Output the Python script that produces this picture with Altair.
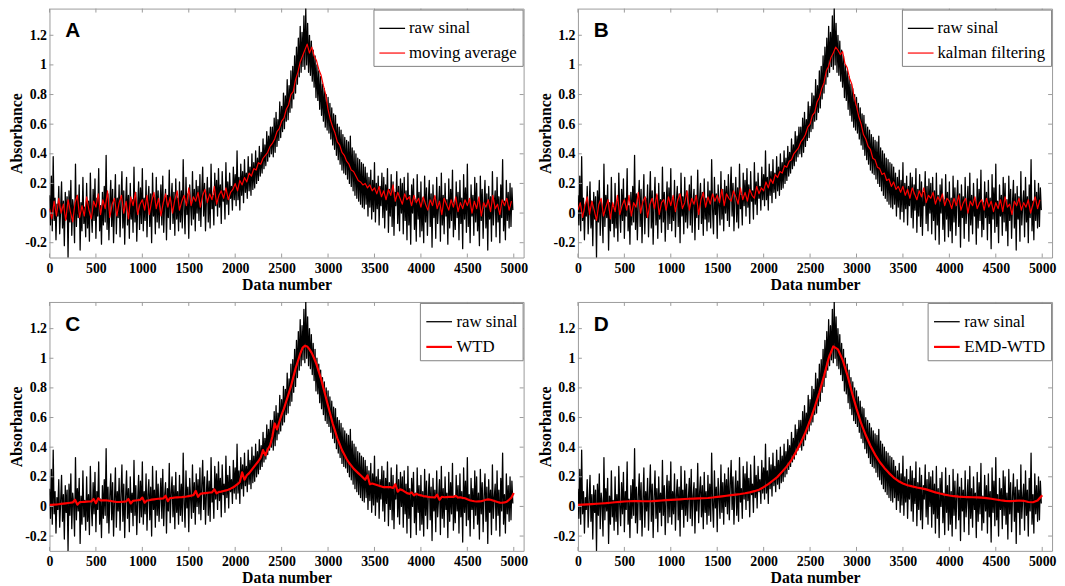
import altair as alt
import numpy as np
import pandas as pd

# ---------------- data ----------------
raw_step = 10
raw_signal = [
    0.12, -0.08, 0.25, -0.12, 0.38, -0.05, 0.10, -0.18, 0.06, -0.02, 0.18, -0.14, 0.03, 0.21, -0.10, 0.08, -0.22, 0.14, -0.04, 0.11,
    -0.30, 0.15, -0.06, 0.22, -0.15, 0.09, 0.02, -0.20, 0.33, -0.09, 0.12, -0.03, 0.19, -0.25, 0.07, -0.12, 0.24, -0.07, 0.04, -0.16,
    0.20, -0.10, 0.08, -0.19, 0.27, 0.01, -0.13, 0.16, -0.05, 0.23, -0.17, 0.10, -0.02, 0.30, -0.12, 0.05, -0.21, 0.14, -0.08, 0.18,
    -0.06, 0.39, -0.11, 0.13, -0.18, 0.07, 0.22, -0.09, 0.16, -0.20, 0.04, 0.26, -0.14, 0.10, -0.03, 0.19, -0.16, 0.08, 0.28, -0.10,
    0.15, -0.21, 0.06, 0.24, -0.08, 0.12, -0.17, 0.20, -0.04, 0.09, -0.13, 0.31, -0.06, 0.14, -0.19, 0.05, 0.21, -0.11, 0.17, -0.07,
    0.30, -0.12, 0.10, -0.05, 0.22, -0.16, 0.08, 0.18, -0.09, 0.13, -0.20, 0.27, -0.02, 0.11, -0.14, 0.24, -0.06, 0.15, -0.10, 0.06,
    0.19, -0.08, 0.25, -0.13, 0.07, 0.16, -0.18, 0.12, -0.03, 0.29, -0.11, 0.09, 0.20, -0.07, 0.14, -0.15, 0.23, -0.04, 0.10, -0.12,
    0.21, -0.06, 0.15, -0.10, 0.36, 0.02, -0.14, 0.24, -0.01, 0.13, -0.17, 0.19, 0.05, -0.08, 0.28, -0.04, 0.16, -0.12, 0.22, 0.00,
    0.18, -0.05, 0.26, -0.09, 0.14, 0.31, -0.02, 0.20, -0.12, 0.09, 0.24, -0.06, 0.17, -0.10, 0.33, 0.03, 0.12, -0.08, 0.27, 0.05,
    0.22, -0.02, 0.30, 0.04, 0.19, -0.07, 0.28, 0.08, 0.15, -0.04, 0.34, 0.06, 0.21, -0.01, 0.27, 0.10, 0.18, 0.02, 0.31, 0.09,
    0.26, 0.05, 0.42, 0.09, 0.24, 0.02, 0.33, 0.12, 0.28, 0.07, 0.36, 0.14, 0.27, 0.10, 0.38, 0.15, 0.31, 0.12, 0.40, 0.16,
    0.34, 0.17, 0.42, 0.20, 0.37, 0.22, 0.45, 0.25, 0.41, 0.27, 0.50, 0.30, 0.46, 0.32, 0.55, 0.35, 0.52, 0.38, 0.58, 0.40,
    0.58, 0.38, 0.64, 0.41, 0.68, 0.45, 0.63, 0.49, 0.75, 0.51, 0.72, 0.55, 0.81, 0.57, 0.79, 0.62, 0.90, 0.63, 0.86, 0.68,
    0.96, 0.71, 0.99, 0.77, 1.06, 0.81, 1.12, 0.87, 1.18, 0.92, 1.26, 0.95, 1.22, 0.99, 1.33, 0.97, 1.38, 1.00, 1.28, 0.95,
    1.20, 0.93, 1.16, 0.89, 1.10, 0.85, 1.06, 0.78, 1.00, 0.76, 0.96, 0.70, 0.92, 0.66, 0.87, 0.62, 0.84, 0.58, 0.80, 0.56,
    0.78, 0.54, 0.74, 0.50, 0.71, 0.46, 0.67, 0.43, 0.66, 0.39, 0.60, 0.36, 0.58, 0.33, 0.56, 0.29, 0.53, 0.27, 0.51, 0.26,
    0.49, 0.23, 0.48, 0.20, 0.52, 0.18, 0.44, 0.15, 0.42, 0.12, 0.40, 0.10, 0.37, 0.08, 0.36, 0.06, 0.34, 0.04, 0.33, 0.03,
    0.31, 0.06, 0.27, -0.02, 0.24, 0.04, 0.29, -0.04, 0.22, 0.01, 0.34, -0.06, 0.20, 0.03, 0.25, -0.08, 0.18, 0.05, 0.27, -0.03,
    0.24, -0.10, 0.19, 0.02, 0.30, -0.13, 0.16, -0.02, 0.26, -0.09, 0.21, -0.15, 0.14, 0.05, 0.28, -0.07, 0.18, -0.12, 0.23, 0.00,
    0.20, -0.14, 0.24, -0.05, 0.15, -0.18, 0.27, -0.08, 0.12, -0.21, 0.19, 0.00, 0.23, -0.11, 0.09, -0.19, 0.26, -0.04, 0.14, -0.16,
    0.21, -0.12, 0.10, -0.20, 0.25, -0.06, 0.17, -0.15, 0.08, 0.22, -0.09, 0.13, -0.23, 0.19, -0.03, 0.11, -0.17, 0.24, -0.07, 0.05,
    0.18, -0.19, 0.27, -0.08, 0.12, -0.14, 0.20, -0.02, 0.09, -0.21, 0.23, -0.10, 0.16, -0.05, 0.29, -0.16, 0.07, -0.11, 0.21, -0.03,
    0.14, -0.18, 0.22, -0.07, 0.10, -0.24, 0.26, -0.04, 0.17, -0.13, 0.33, -0.09, 0.08, -0.20, 0.19, -0.02, 0.12, -0.15, 0.24, -0.06,
    0.20, -0.12, 0.09, -0.22, 0.25, -0.05, 0.16, -0.17, 0.07, 0.22, -0.10, 0.13, -0.25, 0.18, -0.04, 0.11, -0.19, 0.28, -0.08, 0.06,
    0.15, -0.16, 0.24, -0.06, 0.11, -0.20, 0.19, -0.03, 0.36, -0.12, 0.08, -0.18, 0.22, -0.05, 0.14, -0.10, 0.20, -0.09, 0.17, 0.02,
]

filt_step = 25
moving_average = [
    0.03, -0.04, 0.08, -0.02, 0.10, 0.00, 0.06, -0.05, 0.09, 0.01, -0.06, 0.07, 0.12, -0.03, 0.05, -0.02, 0.11, 0.02, -0.04, 0.08,
    0.04, 0.13, -0.01, 0.09, 0.03, 0.15, -0.03, 0.06, 0.10, -0.02, 0.07, 0.12, 0.00, 0.08, -0.04, 0.11, 0.05, 0.14, -0.01, 0.06,
    0.09, 0.02, 0.12, -0.01, 0.08, 0.14, 0.03, 0.10, -0.02, 0.07, 0.13, 0.04, 0.11, 0.00, 0.09, 0.15, 0.02, 0.08, 0.12, 0.05,
    0.17, 0.05, 0.11, 0.08, 0.14, 0.04, 0.12, 0.16, 0.07, 0.13, 0.09, 0.18, 0.06, 0.12, 0.15, 0.10, 0.17, 0.09, 0.14, 0.16,
    0.20, 0.15, 0.22, 0.19, 0.24, 0.21, 0.27, 0.25, 0.30, 0.29, 0.34, 0.33, 0.37, 0.39, 0.41, 0.45, 0.47, 0.50, 0.55, 0.57,
    0.62, 0.64, 0.70, 0.73, 0.80, 0.82, 0.90, 0.95, 1.02, 1.06, 1.10, 1.14, 1.08, 1.12, 1.06, 1.03, 0.97, 0.93, 0.86, 0.80,
    0.70, 0.63, 0.58, 0.54, 0.48, 0.46, 0.41, 0.39, 0.35, 0.33, 0.29, 0.28, 0.25, 0.22, 0.21, 0.19, 0.20, 0.17, 0.19, 0.15,
    0.17, 0.13, 0.18, 0.11, 0.15, 0.09, 0.16, 0.12, 0.19, 0.08, 0.14, 0.10, 0.06, 0.13, 0.09, 0.11, 0.05, 0.12, 0.07, 0.10,
    0.04, 0.11, 0.06, 0.02, 0.09, 0.05, 0.12, 0.03, 0.08, -0.01, 0.10, 0.06, 0.02, 0.09, 0.04, 0.11, 0.01, 0.07, 0.03, 0.09,
    0.05, 0.10, 0.00, 0.08, 0.03, 0.11, -0.02, 0.07, 0.04, 0.09, 0.01, 0.12, 0.03, 0.06, -0.01, 0.09, 0.05, 0.10, 0.02, 0.08,
]
kalman_filtering = [
    0.02, 0.07, -0.03, 0.05, 0.11, -0.01, 0.08, 0.02, -0.05, 0.06, 0.10, -0.02, 0.04, 0.09, -0.04, 0.07, 0.01, 0.12, -0.01, 0.05,
    0.09, 0.02, 0.12, -0.02, 0.07, 0.04, 0.14, 0.00, 0.08, 0.11, -0.03, 0.06, 0.10, 0.03, 0.13, -0.01, 0.07, 0.09, 0.02, 0.11,
    0.05, 0.12, 0.01, 0.09, 0.13, 0.03, 0.07, 0.15, 0.02, 0.10, 0.06, 0.12, -0.01, 0.09, 0.14, 0.04, 0.11, 0.06, 0.13, 0.08,
    0.12, 0.07, 0.16, 0.05, 0.13, 0.10, 0.08, 0.15, 0.11, 0.06, 0.17, 0.09, 0.14, 0.08, 0.16, 0.12, 0.10, 0.18, 0.13, 0.17,
    0.15, 0.21, 0.17, 0.23, 0.20, 0.26, 0.24, 0.28, 0.27, 0.32, 0.31, 0.35, 0.36, 0.40, 0.42, 0.44, 0.48, 0.50, 0.53, 0.58,
    0.60, 0.66, 0.68, 0.75, 0.78, 0.84, 0.88, 0.96, 0.99, 1.05, 1.08, 1.12, 1.10, 1.07, 1.09, 1.01, 0.98, 0.91, 0.87, 0.78,
    0.72, 0.65, 0.60, 0.53, 0.50, 0.45, 0.43, 0.37, 0.36, 0.31, 0.30, 0.26, 0.27, 0.22, 0.23, 0.18, 0.21, 0.16, 0.18, 0.14,
    0.18, 0.12, 0.16, 0.10, 0.17, 0.13, 0.09, 0.15, 0.11, 0.17, 0.07, 0.12, 0.10, 0.14, 0.06, 0.11, 0.08, 0.13, 0.05, 0.10,
    0.08, 0.03, 0.10, 0.05, 0.12, 0.02, 0.07, 0.10, 0.00, 0.08, 0.05, 0.11, 0.03, 0.07, 0.09, 0.02, 0.10, 0.04, 0.08, 0.01,
    0.07, 0.03, 0.09, 0.01, 0.11, 0.04, 0.06, -0.01, 0.08, 0.05, 0.10, 0.02, 0.07, 0.04, 0.09, 0.00, 0.06, 0.11, 0.03, 0.09,
]
wtd = [
    0.010, 0.011, 0.012, 0.013, 0.015, 0.017, 0.019, 0.021, 0.023, 0.025, 0.027, 0.045, 0.012, 0.029, 0.030, 0.031, 0.032, 0.033, 0.034, 0.050,
    0.022, 0.055, 0.040, 0.041, 0.041, 0.040, 0.038, 0.035, 0.032, 0.030, 0.030, 0.031, 0.032, 0.034, 0.050, 0.020, 0.038, 0.040, 0.042, 0.044,
    0.060, 0.025, 0.040, 0.042, 0.046, 0.048, 0.050, 0.052, 0.053, 0.054, 0.072, 0.035, 0.057, 0.058, 0.060, 0.061, 0.062, 0.063, 0.065, 0.067,
    0.070, 0.073, 0.076, 0.105, 0.065, 0.085, 0.088, 0.090, 0.092, 0.094, 0.095, 0.115, 0.088, 0.098, 0.100, 0.104, 0.108, 0.113, 0.120, 0.128,
    0.138, 0.150, 0.165, 0.230, 0.180, 0.210, 0.225, 0.245, 0.265, 0.285, 0.305, 0.330, 0.380, 0.345, 0.385, 0.410, 0.470, 0.560, 0.520, 0.570,
    0.620, 0.660, 0.710, 0.760, 0.810, 0.870, 0.930, 0.980, 1.030, 1.070, 1.085, 1.080, 1.060, 1.035, 1.000, 0.960, 0.910, 0.860, 0.800, 0.740,
    0.680, 0.620, 0.560, 0.510, 0.460, 0.420, 0.380, 0.350, 0.320, 0.295, 0.275, 0.255, 0.240, 0.225, 0.210, 0.195, 0.180, 0.210, 0.150, 0.155,
    0.150, 0.145, 0.140, 0.135, 0.130, 0.130, 0.130, 0.130, 0.125, 0.150, 0.100, 0.115, 0.110, 0.100, 0.090, 0.085, 0.095, 0.075, 0.085, 0.078,
    0.075, 0.070, 0.068, 0.065, 0.063, 0.062, 0.060, 0.080, 0.045, 0.065, 0.062, 0.063, 0.064, 0.065, 0.064, 0.072, 0.060, 0.062, 0.058, 0.055,
    0.048, 0.042, 0.038, 0.035, 0.033, 0.034, 0.035, 0.040, 0.045, 0.048, 0.045, 0.040, 0.035, 0.030, 0.026, 0.025, 0.027, 0.032, 0.045, 0.060,
    0.090,
]
emd_step = 50
emd_wtd = [
    0.010, 0.012, 0.014, 0.016, 0.018, 0.020, 0.022, 0.025, 0.028, 0.031,
    0.033, 0.035, 0.036, 0.036, 0.035, 0.035, 0.036, 0.038, 0.040, 0.042,
    0.044, 0.046, 0.048, 0.050, 0.052, 0.053, 0.054, 0.055, 0.057, 0.060,
    0.064, 0.068, 0.072, 0.076, 0.080, 0.084, 0.089, 0.095, 0.103, 0.113,
    0.130, 0.150, 0.175, 0.200, 0.235, 0.270, 0.315, 0.370, 0.430, 0.500,
    0.580, 0.670, 0.770, 0.880, 1.000, 1.080, 1.060, 0.990, 0.890, 0.770,
    0.660, 0.560, 0.480, 0.410, 0.350, 0.300, 0.260, 0.225, 0.195, 0.172,
    0.155, 0.143, 0.135, 0.128, 0.122, 0.115, 0.105, 0.095, 0.087, 0.080,
    0.074, 0.069, 0.066, 0.064, 0.063, 0.062, 0.061, 0.059, 0.056, 0.052,
    0.047, 0.042, 0.038, 0.036, 0.037, 0.040, 0.038, 0.030, 0.028, 0.040,
    0.075,
]

x_ticks = [0, 500, 1000, 1500, 2000, 2500, 3000, 3500, 4000, 4500, 5000]
y_ticks = [-0.2, 0, 0.2, 0.4, 0.6, 0.8, 1, 1.2]
x_domain = [0, 5106]
y_domain = [-0.3, 1.38]

W, H = 480, 252
SERIF = "Liberation Serif"
BOX = "#9a9a9a"


def panel(letter, name, values, step, red_width):
    raw_df = pd.DataFrame({"x": np.arange(len(raw_signal)) * raw_step,
                           "y": raw_signal, "series": "raw sinal"})
    f_df = pd.DataFrame({"x": np.arange(len(values)) * step,
                         "y": values, "series": name})
    xt = pd.DataFrame({"x": x_ticks})
    yt = pd.DataFrame({"y": y_ticks})
    xs = alt.Scale(domain=x_domain, nice=False, zero=False)
    ys = alt.Scale(domain=y_domain, nice=False, zero=False)
    x_axis = alt.Axis(values=x_ticks, title="Data number", ticks=False, domain=False, grid=False,
                      format="d",
                      labelFont=SERIF, labelFontWeight="bold", labelFontSize=14, labelColor="black",
                      labelPadding=4, labelFlush=False, labelOverlap=False,
                      titleFont=SERIF, titleFontWeight="bold", titleFontSize=16, titleColor="black",
                      titlePadding=1)
    y_axis = alt.Axis(values=y_ticks, title="Absorbance", ticks=False, domain=False, grid=False,
                      labelFont=SERIF, labelFontWeight="bold", labelFontSize=14, labelColor="black",
                      labelPadding=3, labelFlush=False, labelOverlap=False,
                      labelExpr="datum.value < 0 ? '-' + format(-datum.value, '~g') : format(datum.value, '~g')",
                      titleFont=SERIF, titleFontWeight="bold", titleFontSize=16, titleColor="black",
                      titlePadding=0)
    X = alt.X("x:Q", scale=xs, axis=x_axis, title="Data number")
    Y = alt.Y("y:Q", scale=ys, axis=y_axis, title="Absorbance")
    leg = alt.Legend(title=None, orient="top-right", offset=1, padding=5,
                     strokeColor="#808080", fillColor="white",
                     labelFont=SERIF, labelFontSize=17, labelColor="black", labelLimit=400,
                     labelOffset=3, symbolType="stroke", symbolSize=676, rowPadding=3)
    color = alt.Color("series:N", scale=alt.Scale(domain=["raw sinal", name], range=["black", "#ff0000"]),
                      legend=leg)
    width = alt.StrokeWidth("series:N", scale=alt.Scale(domain=["raw sinal", name], range=[1.3, red_width]),
                            legend=leg)

    raw = alt.Chart(raw_df).mark_line(clip=True, strokeJoin="round").encode(
        x=X, y=Y, color=color, strokeWidth=width)
    filt = alt.Chart(f_df).mark_line(clip=True, strokeJoin="round").encode(
        x=X, y=Y, color=color, strokeWidth=width)
    tick_top = alt.Chart(xt).mark_rule(color=BOX, strokeWidth=1).encode(
        x=X, y=alt.value(0), y2=alt.value(4))
    tick_bot = alt.Chart(xt).mark_rule(color=BOX, strokeWidth=1).encode(
        x=X, y=alt.value(H), y2=alt.value(H - 4))
    tick_left = alt.Chart(yt).mark_rule(color=BOX, strokeWidth=1).encode(
        y=Y, x=alt.value(0), x2=alt.value(4))
    tick_right = alt.Chart(yt).mark_rule(color=BOX, strokeWidth=1).encode(
        y=Y, x=alt.value(W - 4), x2=alt.value(W))
    lab = alt.Chart(pd.DataFrame({"label": [letter]})).mark_text(
        font="Liberation Sans", fontWeight="bold", fontSize=21, align="left",
        baseline="alphabetic", color="black").encode(
        x=alt.value(16), y=alt.value(29), text="label:N")
    return alt.layer(raw, filt, tick_top, tick_bot, tick_left, tick_right, lab).properties(width=W, height=H)


A = panel("A", "moving average", moving_average, filt_step, 1.2)
B = panel("B", "kalman filtering", kalman_filtering, filt_step, 1.2)
C = panel("C", "WTD", wtd, filt_step, 2.2)
D = panel("D", "EMD-WTD", emd_wtd, emd_step, 2.2)

row1 = alt.hconcat(A, B, spacing=8).resolve_scale(color="independent", strokeWidth="independent")
row2 = alt.hconcat(C, D, spacing=8).resolve_scale(color="independent", strokeWidth="independent")
chart = (
    alt.vconcat(row1, row2, spacing=8)
    .resolve_scale(color="independent", strokeWidth="independent")
    .properties(padding={"left": 0, "top": -4, "right": 0, "bottom": 0}, background="white")
    .configure_view(stroke=BOX, strokeWidth=1)
)

chart.save("out.html", embed_options={"renderer": "svg", "actions": False})
